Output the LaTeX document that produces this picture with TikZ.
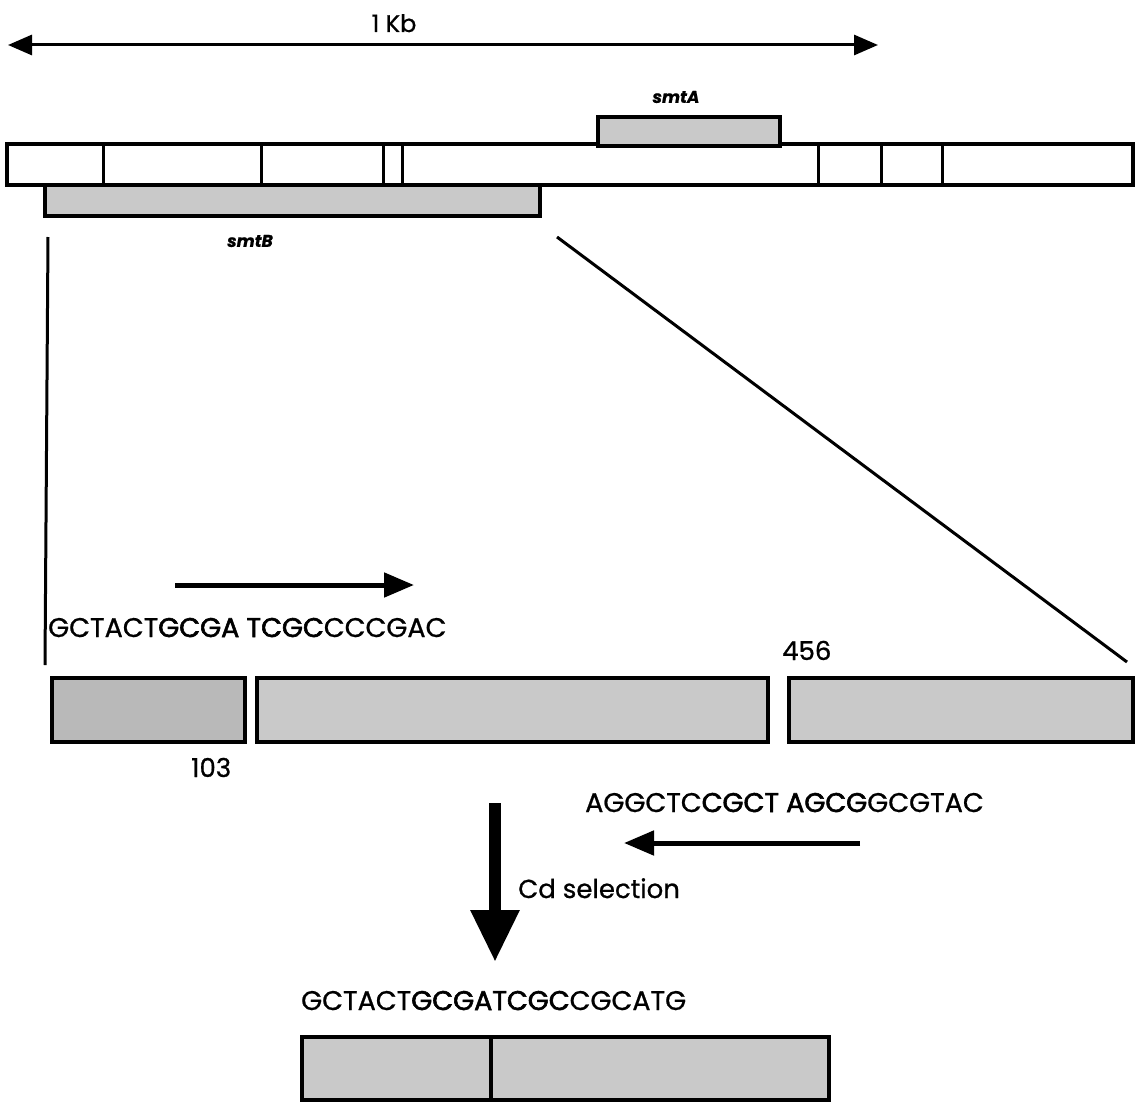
\documentclass[tikz,border=0pt]{standalone}
\usepackage{fontspec}
\setmainfont{Poppins}[FakeBold=0.8]
\newfontfamily\heavyfont{Poppins}[FakeBold=2.2]
\newcommand{\hb}[1]{{\heavyfont #1}}
\usetikzlibrary{arrows.meta}
\begin{document}
\begin{tikzpicture}[x=1pt,y=-1pt,
  bar/.style={draw=black,line width=3.5pt,fill=white},
  gene/.style={draw=black,line width=3.5pt,fill=gray!42},
  genedark/.style={draw=black,line width=3.5pt,fill=gray!55},
  sep/.style={line width=3pt},
  zoomline/.style={line width=3pt},
  seq/.style={anchor=base west,inner sep=0pt,font=\fontsize{27}{30}\selectfont},
  lab/.style={anchor=base west,inner sep=0pt,font=\fontsize{26}{30}\selectfont},
  glab/.style={inner sep=0pt,font=\fontsize{17}{19}\selectfont\bfseries\itshape},
  harrow/.style={line width=5pt,-{Triangle[length=30pt,width=24pt]}},
]
\useasboundingbox (0,0) rectangle (1142,1105);
% 1 Kb scale
\coordinate (kbL) at (8,45);
\coordinate (kbR) at (878,45);
\draw[line width=3pt,{Triangle[length=24pt,width=20pt]}-{Triangle[length=24pt,width=20pt]}] (kbL) -- (kbR);
\node[lab,anchor=base] (kb) at (394,32) {\fontsize{24}{26}\selectfont 1 Kb};
% main bar
\draw[bar] (7,144) rectangle (1133,185);
\foreach \xx in {103,261,383,402,818,881,942} \draw[sep] (\xx,144) -- (\xx,185);
% smtA
\draw[gene] (598,117) rectangle (780,146);
\node[glab] (smtA) at (676,97) {smtA};
% smtB
\draw[gene] (45,185) rectangle (540,216);
\node[glab] (smtB) at (250,241) {smtB};
% zoom lines
\coordinate (zl1) at (48,237);
\coordinate (zl2) at (45,665);
\coordinate (zr1) at (557,237);
\coordinate (zr2) at (1127,662);
\draw[zoomline] (zl1) -- (zl2);
\draw[zoomline] (zr1) -- (zr2);
% forward arrow
\coordinate (fa1) at (175,585);
\coordinate (fa2) at (414,585);
\draw[harrow] (fa1) -- (fa2);
\node[seq] (seq1) at (48,637) {GCTACT\hb{GCGA} \hb{TCGC}CCCGAC};
% boxes
\draw[genedark] (52,678) rectangle (245,742);
\draw[gene] (257,678) rectangle (768,742);
\draw[gene] (789,678) rectangle (1133,742);
\node[lab] (n103) at (191,777) {103};
\node[lab] (n456) at (782,660) {456};
% reverse primer
\node[seq] (seq2) at (585,812) {AGGCTC\hb{CGCT} \hb{AGCG}GCGTAC};
\coordinate (ra1) at (860,843);
\coordinate (ra2) at (624,843);
\draw[harrow] (ra1) -- (ra2);
% down arrow
\coordinate (da1) at (495,803);
\coordinate (da2) at (495,962);
\draw[line width=12pt,-{Triangle[length=52pt,width=46pt]}] (da1) -- (da2);
\node[lab] (cd) at (518,898) {Cd selection};
% result
\node[seq] (seq3) at (301,1010) {GCTACT\hb{GCGATCGC}CGCATG};
\draw[gene] (302,1037) rectangle (829,1100);
\draw[sep,line width=3.5pt] (491,1037) -- (491,1100);
\end{tikzpicture}
\end{document}
